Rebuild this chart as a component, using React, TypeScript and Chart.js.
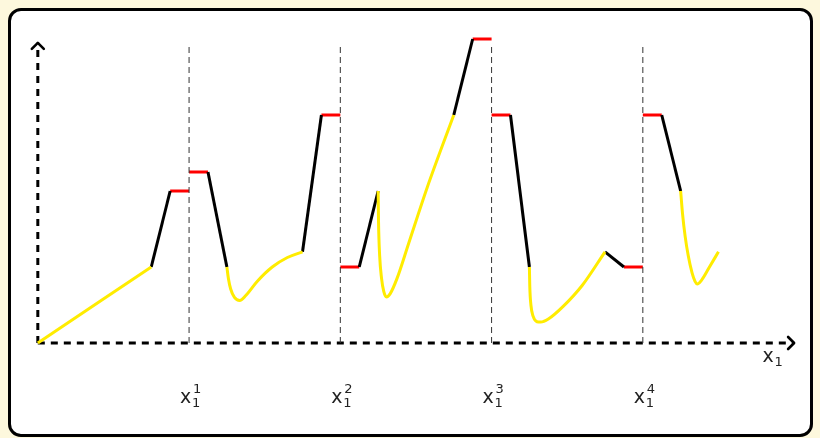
import React, { useEffect, useRef } from "react";
import { Chart, registerables } from "chart.js";

Chart.register(...registerables);

type P = { x: number; y: number };
const pts = (a: number[][]): P[] => a.map(([x, y]) => ({ x, y }));

// axes
const axisXLine = [[0, 0], [20, 0]];
const axisYLine = [[0, 0], [0, 7.9]];
// period boundaries (x1^k)
const periodTicks = [4, 8, 12, 16];
const periodLabels = ["1", "2", "3", "4"];
const guideTop = 7.85;

// red flat segments
const redSegs = [
  [[3.5, 4], [4, 4]],
  [[4, 4.5], [4.5, 4.5]],
  [[7.5, 6], [8, 6]],
  [[8, 2], [8.5, 2]],
  [[11.5, 8], [12, 8]],
  [[12, 6], [12.5, 6]],
  [[15.5, 2], [16, 2]],
  [[16, 6], [16.5, 6]],
];
// black sloped segments
const blackSegs = [
  [[3, 2], [3.5, 4]],
  [[4.5, 4.5], [5, 2]],
  [[7, 2.4], [7.5, 6]],
  [[8.5, 2], [9, 4]],
  [[11, 6], [11.5, 8]],
  [[12.5, 6], [13, 2]],
  [[15, 2.4], [15.5, 2]],
  [[16.5, 6], [17, 4]],
];
// yellow curves
const yellow1 = [[0, 0], [3, 2]];
const yellow2 = [[5, 2], [5.04, 1.7], [5.1, 1.42], [5.2, 1.2], [5.34, 1.12], [5.5, 1.25], [5.8, 1.62], [6.2, 2.0], [6.6, 2.25], [7, 2.4]];
const yellow3 = [[9, 4], [9.01, 3.2], [9.04, 2.3], [9.09, 1.7], [9.15, 1.35], [9.22, 1.21], [9.32, 1.3], [9.5, 1.7], [9.8, 2.6], [10.3, 4.1], [11, 6]];
const yellow4 = [[13, 2], [13.01, 1.5], [13.04, 1.0], [13.1, 0.7], [13.2, 0.56], [13.3, 0.55], [13.5, 0.63], [13.9, 0.97], [14.4, 1.52], [15, 2.4]];
const yellow5 = [[17, 4], [17.05, 3.4], [17.12, 2.8], [17.2, 2.3], [17.3, 1.85], [17.38, 1.62], [17.44, 1.55], [17.55, 1.65], [17.75, 1.98], [18, 2.4]];
const yellowCurves = [yellow1, yellow2, yellow3, yellow4, yellow5];

const YELLOW = "#ffec00";
const FONT = '"DejaVu Sans", sans-serif';

const overlay = {
  id: "overlay",
  afterDatasetsDraw(chart: any) {
    const { ctx, scales } = chart;
    const xs = scales.x, ys = scales.y;
    ctx.save();
    ctx.setLineDash([]);
    ctx.strokeStyle = "#000";
    ctx.lineWidth = 2.6;
    ctx.lineCap = "round";
    ctx.lineJoin = "round";
    // x arrow
    const tx = xs.getPixelForValue(axisXLine[1][0]);
    const ty = ys.getPixelForValue(axisXLine[1][1]);
    ctx.beginPath();
    ctx.moveTo(tx - 6, ty - 6);
    ctx.lineTo(tx, ty);
    ctx.lineTo(tx - 6, ty + 6);
    ctx.stroke();
    // y arrow
    const ux = xs.getPixelForValue(axisYLine[1][0]);
    const uy = ys.getPixelForValue(axisYLine[1][1]);
    ctx.beginPath();
    ctx.moveTo(ux - 6, uy + 6);
    ctx.lineTo(ux, uy);
    ctx.lineTo(ux + 6, uy + 6);
    ctx.stroke();

    ctx.fillStyle = "#222";
    ctx.textBaseline = "alphabetic";
    ctx.textAlign = "left";
    const labelY = ys.getPixelForValue(-1.57);
    periodTicks.forEach((t, i) => {
      const cx = xs.getPixelForValue(t);
      ctx.font = `19px ${FONT}`;
      ctx.fillText("x", cx - 9, labelY);
      ctx.font = `13px ${FONT}`;
      ctx.fillText("1", cx + 3, labelY + 4);
      ctx.fillText(periodLabels[i], cx + 4, labelY - 10);
    });
    // x1 axis label
    const ax = xs.getPixelForValue(19.4);
    const ay = ys.getPixelForValue(-0.5);
    ctx.font = `19px ${FONT}`;
    ctx.fillText("x", ax - 9, ay);
    ctx.font = `13px ${FONT}`;
    ctx.fillText("1", ax + 3, ay + 4);
    ctx.restore();
  },
};

export default function App() {
  const ref = useRef<HTMLCanvasElement>(null);
  useEffect(() => {
    if (!ref.current) return;
    const line = (data: number[][], color: string, width: number, dash: number[] = [], curve = false) => ({
      type: "line" as const,
      data: pts(data),
      borderColor: color,
      borderWidth: width,
      borderDash: dash,
      pointRadius: 0,
      fill: false,
      cubicInterpolationMode: curve ? ("monotone" as const) : ("default" as const),
      tension: 0,
      borderCapStyle: "butt" as const,
      borderJoinStyle: "round" as const,
      clip: false as any,
    });
    const datasets: any[] = [];
    periodTicks.forEach((t) => datasets.push(line([[t, 0], [t, guideTop]], "#333", 1, [6, 4])));
    yellowCurves.forEach((c) => datasets.push(line(c, YELLOW, 3, [], true)));
    blackSegs.forEach((s) => datasets.push(line(s, "#000", 3)));
    redSegs.forEach((s) => datasets.push(line(s, "#ff0000", 3)));
    datasets.push(line(axisXLine, "#000", 3, [7, 6]));
    datasets.push(line(axisYLine, "#000", 3, [7, 6]));

    const chart = new Chart(ref.current, {
      type: "line",
      data: { datasets },
      options: {
        animation: false,
        responsive: false,
        events: [],
        layout: { padding: { left: 0, right: 7, top: 20, bottom: 0 } },
        plugins: { legend: { display: false }, tooltip: { enabled: false } },
        scales: {
          x: { type: "linear", min: -1, max: 20.5, display: false },
          y: { type: "linear", min: -2.5, max: 8.5, display: false },
        },
      },
      plugins: [overlay],
    });
    return () => chart.destroy();
  }, []);

  return (
    <div style={{ position: "fixed", left: 0, top: 0, width: 820, height: 438, background: "#fdf8dd", overflow: "hidden" }}>
      <div
        style={{
          position: "absolute",
          left: 8,
          top: 8,
          width: 805,
          height: 429,
          boxSizing: "border-box",
          border: "3px solid #000",
          borderRadius: 13,
          background: "#fff",
        }}
      />
      <canvas ref={ref} width={820} height={438} style={{ position: "absolute", left: 0, top: 0, width: 820, height: 438 }} />
    </div>
  );
}
